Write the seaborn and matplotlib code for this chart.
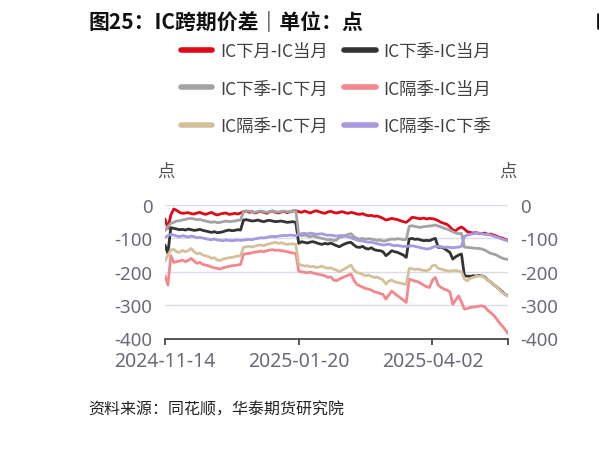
import numpy as np
import pandas as pd
import matplotlib
matplotlib.use("Agg")
import matplotlib.pyplot as plt
from matplotlib.lines import Line2D
import seaborn as sns

sns.set_theme(style="white")
plt.rcParams['font.family'] = ['Noto Sans CJK SC', 'DejaVu Sans']
plt.rcParams['axes.unicode_minus'] = False

title = "图25：IC跨期价差｜单位：点"
source = "资料来源：同花顺，华泰期货研究院"
series_names = ["IC下月-IC当月", "IC下季-IC当月", "IC下季-IC下月",
                "IC隔季-IC当月", "IC隔季-IC下月", "IC隔季-IC下季"]
colors = ["#dc0a1a", "#333333", "#a3a3a3", "#f4878d", "#d5c09c", "#a898e0"]
tick_labels = ["2024-11-14", "2025-01-20", "2025-04-02"]
tick_pos = [0, 46, 92]

red = [-42, -70, -30, -12, -16, -22, -25, -24, -23, -26, -27, -24, -22, -26, -28, -25, -22, -27, -30, -27,
       -25, -24, -28, -27, -25, -27, -24, -20, -18, -22, -20, -24, -21, -19, -22, -25, -20, -18, -22, -24,
       -21, -19, -23, -20, -18, -17, -20, -22, -18, -21, -24, -20, -17, -20, -23, -25, -21, -19, -22, -24,
       -22, -20, -23, -25, -22, -24, -27, -28, -26, -30, -32, -31, -34, -33, -36, -40, -45, -43, -40, -42,
       -44, -47, -50, -52, -45, -37, -38, -40, -41, -39, -42, -40, -41, -43, -47, -52, -55, -58, -65, -75,
       -77, -70, -66, -72, -80, -82, -84, -83, -85, -86, -84, -88, -87, -90, -93, -97, -99, -103, -106]

black = [-120, -145, -68, -70, -72, -74, -73, -75, -72, -74, -76, -75, -73, -76, -78, -80, -82, -80, -83, -82,
         -80, -77, -75, -77, -76, -74, -75, -45, -44, -46, -48, -47, -45, -48, -50, -47, -46, -48, -50, -49,
         -48, -50, -52, -51, -50, -52, -115, -110, -112, -114, -111, -110, -113, -116, -118, -115, -117, -114, -118, -122,
         -125, -120, -116, -113, -112, -120, -126, -127, -124, -130, -132, -128, -134, -136, -137, -140, -152, -145, -137, -140,
         -142, -146, -150, -157, -102, -100, -103, -102, -105, -107, -106, -107, -103, -100, -127, -126, -130, -136, -142, -162,
         -155, -150, -147, -212, -213, -214, -212, -213, -211, -212, -216, -225, -230, -238, -245, -252, -260, -268, -272]

grey = [-77, -65, -55, -52, -48, -47, -45, -43, -41, -40, -42, -44, -43, -46, -48, -50, -52, -50, -53, -52,
        -50, -48, -50, -49, -48, -46, -45, -20, -19, -18, -21, -22, -19, -18, -20, -22, -19, -18, -20, -21,
        -19, -18, -20, -19, -18, -17, -88, -92, -90, -93, -95, -92, -96, -98, -100, -102, -105, -103, -107, -105,
        -97, -95, -92, -88, -86, -95, -100, -102, -100, -103, -101, -102, -104, -106, -105, -108, -107, -104, -102, -103,
        -101, -102, -104, -103, -64, -62, -64, -66, -67, -65, -64, -63, -62, -60, -63, -66, -70, -72, -76, -80,
        -84, -86, -85, -126, -127, -128, -129, -130, -130, -132, -135, -140, -145, -147, -150, -155, -159, -162, -163]

pink = [-212, -240, -152, -172, -170, -168, -165, -170, -166, -160, -168, -175, -172, -178, -180, -182, -186, -188, -190, -192,
        -188, -186, -184, -182, -181, -180, -178, -148, -146, -145, -143, -141, -140, -138, -140, -137, -135, -134, -136, -135,
        -137, -138, -140, -142, -144, -145, -198, -200, -202, -203, -201, -204, -206, -208, -210, -212, -217, -215, -225, -227,
        -222, -218, -214, -210, -207, -225, -238, -242, -246, -250, -252, -255, -260, -262, -265, -268, -282, -270, -258, -265,
        -272, -278, -285, -292, -222, -225, -228, -230, -235, -240, -245, -247, -225, -217, -240, -247, -252, -255, -260, -297,
        -285, -272, -290, -312, -310, -307, -306, -305, -303, -302, -305, -315, -322, -330, -340, -352, -362, -373, -385]

tan = [-168, -150, -135, -133, -140, -142, -136, -140, -137, -130, -140, -146, -144, -150, -152, -155, -160, -158, -165, -166,
       -162, -160, -158, -157, -155, -153, -152, -127, -125, -124, -126, -123, -121, -120, -122, -118, -116, -114, -112, -115,
       -113, -116, -118, -117, -116, -118, -178, -180, -183, -182, -185, -184, -187, -186, -183, -187, -190, -188, -192, -195,
       -200, -195, -190, -185, -180, -195, -202, -205, -208, -212, -210, -214, -217, -216, -220, -225, -237, -228, -225, -230,
       -232, -234, -236, -238, -190, -191, -193, -192, -194, -196, -197, -193, -182, -180, -190, -192, -195, -197, -198, -197,
       -196, -198, -200, -222, -227, -220, -217, -214, -213, -212, -218, -225, -230, -237, -245, -253, -262, -268, -274]

purple = [-97, -92, -88, -90, -93, -95, -92, -94, -96, -93, -95, -98, -97, -99, -101, -103, -104, -102, -105, -106,
          -107, -105, -106, -107, -106, -105, -106, -105, -104, -103, -104, -101, -100, -98, -99, -97, -95, -94, -95, -93,
          -92, -91, -92, -90, -91, -92, -88, -86, -85, -87, -84, -86, -88, -87, -86, -89, -91, -90, -92, -93,
          -92, -91, -93, -95, -98, -102, -105, -107, -108, -110, -112, -111, -114, -116, -118, -120, -119, -117, -120, -122,
          -121, -123, -124, -124, -123, -122, -124, -126, -128, -130, -132, -131, -127, -124, -124, -125, -127, -126, -127, -128,
          -127, -126, -124, -94, -90, -88, -86, -85, -84, -86, -88, -87, -90, -93, -96, -99, -102, -105, -108]

all_series = [red, black, grey, pink, tan, purple]
n = len(red)
frames = []
for name, vals in zip(series_names, all_series):
    frames.append(pd.DataFrame({"idx": np.arange(len(vals)), "value": vals, "series": name}))
df = pd.concat(frames, ignore_index=True)

W, H = 599, 460
fig = plt.figure(figsize=(W / 100, H / 100), dpi=100)
ax = fig.add_axes([165 / W, 1 - 339.5 / H, (508 - 165) / W, (339.5 - 206) / H])

sns.lineplot(data=df, x="idx", y="value", hue="series", hue_order=series_names,
             palette=colors, linewidth=2.0, ax=ax, legend=True)

handles, labels = ax.get_legend_handles_labels()
ax.get_legend().remove()
for h in handles:
    h.set_linewidth(4.0)
    h.set_solid_capstyle("round")
# row-wise ordering for a 2-column legend
order = [0, 2, 4, 1, 3, 5]
handles = [handles[i] for i in order]
labels = [labels[i] for i in order]
leg = fig.legend(handles, labels, loc="upper left", bbox_to_anchor=(181 / W, 1 - 43 / H),
                 ncol=2, frameon=False, fontsize=12.5, handlelength=1.8, handletextpad=0.45,
                 columnspacing=0.95, labelspacing=1.12, borderpad=0, borderaxespad=0)
for t in leg.get_texts():
    t.set_color("#404040")

ax.set_xlim(0, n - 1)
ax.set_ylim(-400, 0)
ax.set_yticks([0, -100, -200, -300, -400])
ax.set_yticklabels(["0", "-100", "-200", "-300", "-400"])
ax.set_xticks(tick_pos + [n - 1])
ax.set_xticklabels(tick_labels + [""])
ax.set_xlabel("")
ax.set_ylabel("")
for y in [0, -100, -200, -300]:
    ax.axhline(y, color="#d9dde9", lw=1.0, zorder=0)
for s in ["top", "right", "left"]:
    ax.spines[s].set_visible(False)
ax.spines["bottom"].set_color("#3a3a3a")
ax.spines["bottom"].set_linewidth(1.2)
ax.tick_params(axis="x", length=4, width=1.2, color="#3a3a3a", labelsize=14,
               labelcolor="#6b6b78", pad=5, direction="out", bottom=True)
ax.tick_params(axis="y", length=0, labelsize=13.5, labelcolor="#6b6b78", pad=9)
for lab in ax.get_xticklabels():
    lab.set_fontfamily(["Noto Sans", "DejaVu Sans"])
for lab in ax.get_yticklabels():
    lab.set_fontfamily(["Noto Sans", "DejaVu Sans"])

ax2 = ax.twinx()
ax2.set_ylim(-400, 0)
ax2.set_yticks([0, -100, -200, -300, -400])
ax2.set_yticklabels(["0", "-100", "-200", "-300", "-400"])
for s in ax2.spines.values():
    s.set_visible(False)
ax2.tick_params(axis="y", length=0, labelsize=13.5, labelcolor="#6b6b78", pad=9)
for lab in ax2.get_yticklabels():
    lab.set_fontfamily(["Noto Sans", "DejaVu Sans"])
ax2.grid(False)

fig.text(166 / W, 1 - 172 / H, "点", ha="center", va="center", fontsize=12.5, color="#505050")
fig.text(508 / W, 1 - 172 / H, "点", ha="center", va="center", fontsize=12.5, color="#505050")

fig.text(88 / W, 1 - 22 / H, title, ha="left", va="center", fontsize=15, fontweight="bold", color="#111111")
fig.text(88 / W, 1 - 410 / H, source, ha="left", va="center", fontsize=11.5, style="italic", color="#222222")
fig.add_artist(Line2D([597.5 / W, 597.5 / W], [1 - 15 / H, 1 - 29 / H], color="#111111", lw=2.0))

fig.savefig("out.png", dpi=100)
